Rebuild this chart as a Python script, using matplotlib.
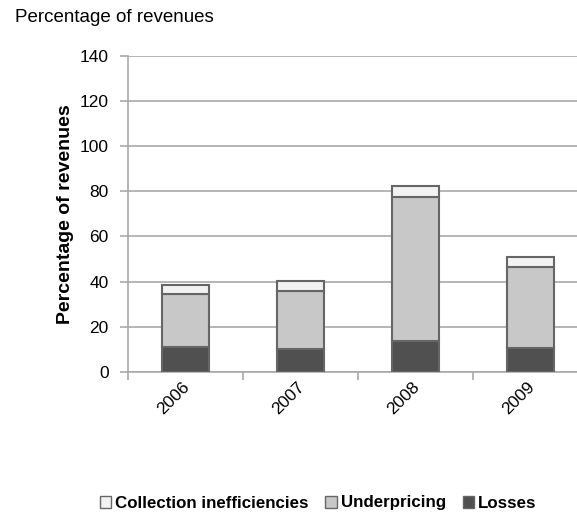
import matplotlib.pyplot as plt
from matplotlib.patches import Patch
from matplotlib.transforms import ScaledTranslation

years = ["2006", "2007", "2008", "2009"]
losses = [11.1, 10.2, 13.9, 10.6]
underpricing = [23.5, 25.7, 63.6, 35.9]
collection = [4.1, 4.4, 4.9, 4.2]

plt.rcParams['font.family'] = ['Liberation Sans Narrow', 'Liberation Sans', 'DejaVu Sans']

fig = plt.figure(figsize=(5.77, 5.2), dpi=100)
ax = fig.add_axes([128 / 577, 148 / 520, 460 / 577, 316.3 / 520])

x = list(range(len(years)))
edge = "#666666"
c_loss, c_under, c_coll = "#505050", "#c8c8c8", "#f2f2f2"
w = 0.41

ax.bar(x, losses, w, color=c_loss, edgecolor=edge, linewidth=1.5, zorder=3)
ax.bar(x, underpricing, w, bottom=losses, color=c_under, edgecolor=edge, linewidth=1.5, zorder=3)
base = [a + b for a, b in zip(losses, underpricing)]
ax.bar(x, collection, w, bottom=base, color=c_coll, edgecolor=edge, linewidth=1.5, zorder=3)

ax.set_xlim(-0.5, 3.5)
ax.set_ylim(0, 140)
ax.set_yticks(range(0, 141, 20))
ax.yaxis.grid(True, color="#a9a9a9", linewidth=1.2, zorder=0)
ax.set_axisbelow(True)

for s in ["top", "right"]:
    ax.spines[s].set_visible(False)
for s in ["left", "bottom"]:
    ax.spines[s].set_color("#a9a9a9")
    ax.spines[s].set_linewidth(1.2)

ax.tick_params(axis="y", length=6, width=1.2, color="#a9a9a9", labelsize=12.5, pad=8)
# ticks on category boundaries, labels on bar centres
ax.set_xticks([-0.5, 0.5, 1.5, 2.5, 3.5])
ax.set_xticklabels([])
ax.tick_params(axis="x", length=6, width=1.2, color="#a9a9a9")
ax.set_xticks(x, minor=True)
ax.set_xticklabels(years, minor=True, rotation=45, fontsize=12.5)
ax.tick_params(axis="x", which="minor", length=0, pad=5)
shift = ScaledTranslation(0.07, 0, fig.dpi_scale_trans)
for lbl in ax.get_xticklabels(minor=True):
    lbl.set_ha("right")
    lbl.set_va("top")
    lbl.set_transform(lbl.get_transform() + shift)

ax.set_ylabel("Percentage of revenues", fontsize=14, fontweight="bold", labelpad=4)
fig.text(15 / 577, 1 - 18 / 520, "Percentage of revenues", fontsize=13.5, va="center", ha="left")

handles = [Patch(facecolor=c_coll, edgecolor=edge), Patch(facecolor=c_under, edgecolor=edge),
           Patch(facecolor=c_loss, edgecolor=edge)]
fig.legend(handles, ["Collection inefficiencies", "Underpricing", "Losses"], loc="center",
           bbox_to_anchor=(318 / 577, 1 - 503 / 520), ncol=3, frameon=False,
           prop={"weight": "bold", "size": 12.2}, handlelength=0.7, handleheight=0.7,
           handletextpad=0.2, columnspacing=1.0)

fig.savefig("out.png", dpi=100)
